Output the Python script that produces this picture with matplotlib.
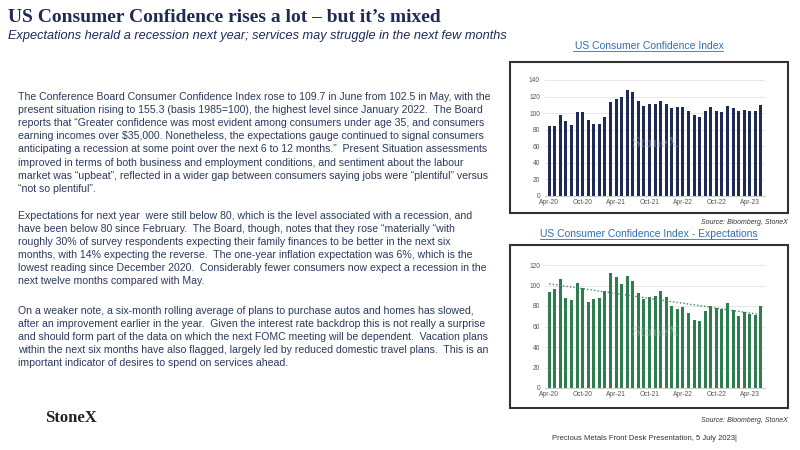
import numpy as np
import matplotlib.pyplot as plt
from matplotlib.patches import Rectangle

months = ['Apr-20', 'May-20', 'Jun-20', 'Jul-20', 'Aug-20', 'Sep-20', 'Oct-20', 'Nov-20', 'Dec-20',
          'Jan-21', 'Feb-21', 'Mar-21', 'Apr-21', 'May-21', 'Jun-21', 'Jul-21', 'Aug-21', 'Sep-21',
          'Oct-21', 'Nov-21', 'Dec-21', 'Jan-22', 'Feb-22', 'Mar-22', 'Apr-22', 'May-22', 'Jun-22',
          'Jul-22', 'Aug-22', 'Sep-22', 'Oct-22', 'Nov-22', 'Dec-22', 'Jan-23', 'Feb-23', 'Mar-23',
          'Apr-23', 'May-23', 'Jun-23']
confidence = [85, 85, 98, 91, 86, 101, 101, 92, 87, 87, 95, 114, 117, 120, 128, 125, 115, 109,
              111, 111, 115, 111, 106, 108, 108, 103, 98, 95, 103, 107, 102, 101, 109, 106, 103,
              104, 103, 102, 110]
expectations = [94, 97, 106, 88, 86, 102, 98, 84, 87, 88, 95, 112, 108, 101, 109, 104, 93, 87,
                89, 90, 95, 89, 80, 77, 79, 73, 66, 65, 75, 80, 78, 77, 83, 76, 70, 74, 72, 71, 80]

navy = '#1f2a55'
green = '#2e7d4f'

plt.rcParams['font.family'] = ['Liberation Sans', 'DejaVu Sans']
fig = plt.figure(figsize=(8, 4.5), dpi=100)


def fy(y):
    return 1 - y / 450


fig.text(8 / 800, fy(17), 'US Consumer Confidence rises a lot \u2013 but it\u2019s mixed',
         family='Liberation Serif', weight='bold', fontsize=14, color=navy, va='center')
fig.text(8 / 800, fy(36), 'Expectations herald a recession next year; services may struggle in the next few months',
         style='italic', fontsize=9.2, color=navy, va='center')

paras = [
    ["The Conference Board Consumer Confidence Index rose to 109.7 in June from 102.5 in May, with the",
     "present situation rising to 155.3 (basis 1985=100), the highest level since January 2022.  The Board",
     "reports that \u201cGreater confidence was most evident among consumers under age 35, and consumers",
     "earning incomes over $35,000. Nonetheless, the expectations gauge continued to signal consumers",
     "anticipating a recession at some point over the next 6 to 12 months.\u201d  Present Situation assessments",
     "improved in terms of both business and employment conditions, and sentiment about the labour",
     "market was \u201cupbeat\u201d, reflected in a wider gap between consumers saying jobs were \u201cplentiful\u201d versus",
     "\u201cnot so plentiful\u201d."],
    ["Expectations for next year  were still below 80, which is the level associated with a recession, and",
     "have been below 80 since February.  The Board, though, notes that they rose \u201cmaterially \u201cwith",
     "roughly 30% of survey respondents expecting their family finances to be better in the next six",
     "months, with 14% expecting the reverse.  The one-year inflation expectation was 6%, which is the",
     "lowest reading since December 2020.  Considerably fewer consumers now expect a recession in the",
     "next twelve months compared with May."],
    ["On a weaker note, a six-month rolling average of plans to purchase autos and homes has slowed,",
     "after an improvement earlier in the year.  Given the interest rate backdrop this is not really a surprise",
     "and should form part of the data on which the next FOMC meeting will be dependent.  Vacation plans",
     "within the next six months have also flagged, largely led by reduced domestic travel plans.  This is an",
     "important indicator of desires to spend on services ahead."],
]
starts = [97, 216, 311]
for lines, y0 in zip(paras, starts):
    for i, line in enumerate(lines):
        fig.text(18 / 800, fy(y0 + i * 13.1), line, fontsize=7.6, color='#2b3a5c', va='center')

fig.text(45 / 800, fy(418), 'StoneX', family='Liberation Serif', weight='bold', fontsize=12,
         color='#222222', va='center')
fig.text(552 / 800, fy(438), 'Precious Metals Front Desk Presentation, 5 July 2023|',
         fontsize=5.5, color='#333333', va='center')


def chart(box, axrect, title, ty, src_y, values, color, trend=False):
    x0, y0, x1, y1 = box
    fig.patches.append(Rectangle((x0 / 800, fy(y1)), (x1 - x0) / 800, (y1 - y0) / 450,
                                 transform=fig.transFigure, fill=False, edgecolor='#333333', lw=1.5))
    fig.text((x0 + x1) / 2 / 800, fy(ty), title, fontsize=7.5, color='#2f6fb5',
             ha='center', va='center')
    fig.text(x1 / 800, fy(src_y), 'Source: Bloomberg, StoneX', style='italic', fontsize=5,
             color='#333333', ha='right', va='center')
    ax = fig.add_axes(axrect)
    x = np.arange(len(values))
    ax.bar(x, values, width=0.55, color=color)
    if trend:
        k, b = np.polyfit(x, values, 1)
        ax.plot(x, k * x + b, ls=(0, (1, 1.5)), color='#3a8a5a', lw=1)
    ax.set_xlim(-0.8, len(values) - 0.3)
    ax.set_xticks(x[::6])
    ax.set_xticklabels(months[::6], fontsize=4.8, color='#555555')
    ax.tick_params(axis='y', labelsize=4.8, labelcolor='#555555', length=0)
    ax.tick_params(axis='x', length=0, pad=2)
    ax.grid(axis='y', color='#e3e3e3', lw=0.6)
    ax.set_axisbelow(True)
    for s in ['top', 'right', 'left']:
        ax.spines[s].set_visible(False)
    ax.spines['bottom'].set_color('#cccccc')
    ax.text(0.5, 0.45, 'StoneX', transform=ax.transAxes, family='Liberation Serif',
            weight='bold', fontsize=11, color='#bbbbbb', alpha=0.4, ha='center', va='center')
    return ax


ax1 = chart((510, 62, 788, 213), [0.681, fy(196), 0.275, (196 - 80) / 450],
            'US Consumer Confidence Index', 46, 222, confidence, navy)
ax1.set_ylim(0, 140)
ax1.set_yticks(range(0, 141, 20))
ax2 = chart((510, 245, 788, 408), [0.681, fy(388), 0.275, (388 - 265) / 450],
            'US Consumer Confidence Index - Expectations', 234, 420, expectations, green, trend=True)
ax2.set_ylim(0, 120)
ax2.set_yticks(range(0, 121, 20))

# underline chart titles
for xa, xb, yy in [(573, 723, 51), (540, 757, 239)]:
    fig.add_artist(plt.Line2D([xa / 800, xb / 800], [fy(yy), fy(yy)], color='#2f6fb5', lw=0.6))

fig.savefig('out.png', dpi=100)
